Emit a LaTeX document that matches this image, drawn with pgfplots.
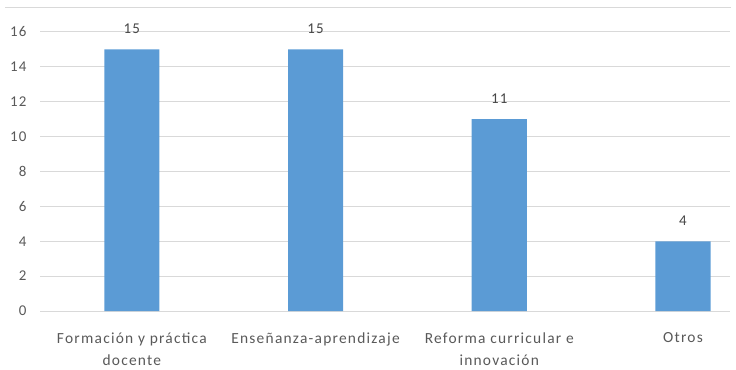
\documentclass[border=0pt]{standalone}
\usepackage{fontspec}
\setmainfont{Carlito}[LetterSpace=8]
\usepackage{pgfplots}
\pgfplotsset{compat=1.18}
\definecolor{barblue}{HTML}{5B9BD5}
\definecolor{txtgray}{HTML}{595959}
\definecolor{gridgray}{HTML}{D9D9D9}
\begin{document}
\begin{tikzpicture}[x=1bp,y=1bp]
\useasboundingbox (0,0) rectangle (736,369);
\draw[gridgray, line width=1bp] (5,361) -- (731,361);
\begin{axis}[
  at={(40bp,58bp)}, anchor=south west,
  scale only axis, width=690bp, height=279bp,
  xmin=-0.5, xmax=3.256, ymin=0, ymax=16,
  ytick={0,2,...,16},
  xtick={0,1,2,3},
  xticklabels={{Formación y práctica\\docente},{Enseñanza-aprendizaje},{Reforma curricular e\\innovación},{Otros}},
  xticklabel style={align=center, font=\fontsize{15.5}{22}\selectfont, text=txtgray, yshift=-14bp},
  yticklabel style={font=\fontsize{15}{16}\selectfont, text=txtgray, xshift=-10bp},
  /pgf/number format/assume math mode=true,
  axis line style={draw=none},
  tick style={draw=none},
  ymajorgrids, grid style={gridgray, line width=1bp},
  ybar, bar width=0.30,
  nodes near coords,
  every node near coord/.append style={font=\fontsize{15}{16}\selectfont, text=txtgray!80!black, yshift=12bp},
  clip=false,
]
\addplot[fill=barblue, draw=none] coordinates {(0,15) (1,15) (2,11) (3,4)};
\end{axis}
\end{tikzpicture}
\end{document}
